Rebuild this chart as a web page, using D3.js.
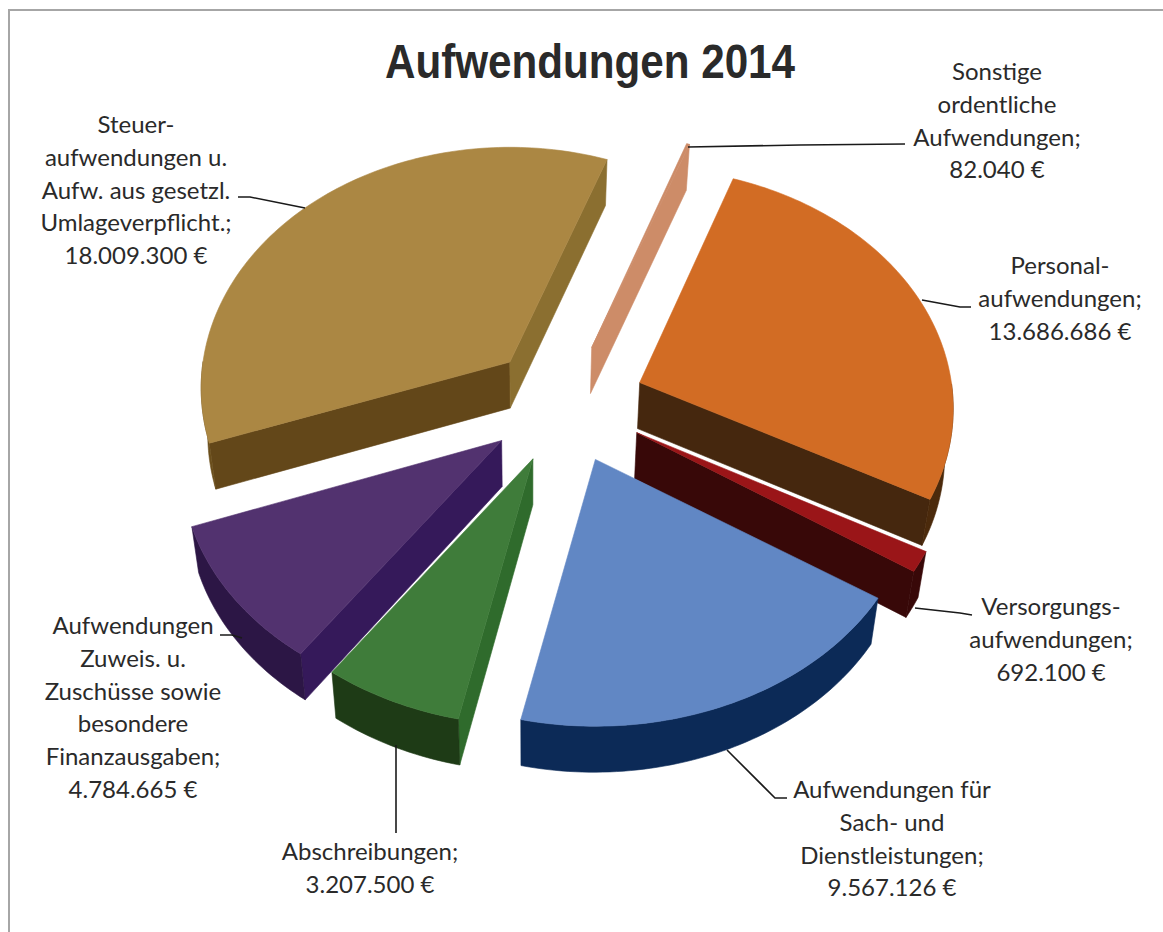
<!DOCTYPE html>
<html>
<head>
<meta charset="utf-8">
<script src="https://cdn.jsdelivr.net/npm/d3@7"></script>
<style>
  html, body { margin: 0; background: #fff; }
  text { font-family: Lato, "Open Sans", sans-serif; fill: #2a2a2a; }
</style>
</head>
<body>
<script>
const width = 1163;
const height = 932;

// values in pie order, clockwise from the right side of the gap
const names = [
  "Personalaufwendungen", "Versorgungsaufwendungen", "Aufwendungen für Sach- und Dienstleistungen",
  "Abschreibungen", "Aufwendungen Zuweis. u. Zuschüsse", "Steueraufwendungen", "Sonstige ordentliche Aufwendungen"
];
const values = [13686686, 692100, 9567126, 3207500, 4784665, 18009300, 82040];
const labels = [
  ["Personal-", "aufwendungen;", "13.686.686 €"],
  ["Versorgungs-", "aufwendungen;", "692.100 €"],
  ["Aufwendungen für", "Sach- und", "Dienstleistungen;", "9.567.126 €"],
  ["Abschreibungen;", "3.207.500 €"],
  ["Aufwendungen", "Zuweis. u.", "Zuschüsse sowie", "besondere", "Finanzausgaben;", "4.784.665 €"],
  ["Steuer-", "aufwendungen u.", "Aufw. aus gesetzl.", "Umlageverpflicht.;", "18.009.300 €"],
  ["Sonstige", "ordentliche", "Aufwendungen;", "82.040 €"]
];

// top, wall at slice start, wall at slice end, outer band
const topColors = ["#d26c24", "#9a1518", "#6187c4", "#3f7c3a", "#52326f", "#ab8743", "#cd8c68"];
const startWall = ["#45270e", "#380808", "#0c2a57", "#2f6b2c", "#35195a", "#634719", "#cd8c68"];
const endWall = ["#45270e", "#380808", "#0c2a57", "#1e3b16", "#2c1645", "#8b6f30", "#cd8c68"];
const bandColors = ["#4b2a0c", "#380808", "#0c2a57", "#1e3b16", "#2c1645", "#6b4f1c", "#cd8c68"];

// small per slice corrections, the picture is not a perfect pie
const sliceScaleX = [0.98, 0.98, 1, 1, 1, 0.965, 1];
const sliceTurn = [-0.5, 0, 0, 0, 0, 1.2, 0];
const sliceNudge = [[0, 0], [3, -2], [0, 0], [0, 0], [0, 0], [2, 0], [0, 0]];

// label placement: centre x, first line y, then the leader line
const labelX = [1060, 1051, 892, 370, 133, 136, 997];
const labelY = [274, 615, 798, 860, 634, 133, 80];
const leaders = [
  [[922, 300], [960, 307], [971, 307]],
  [[915, 608], [960, 613], [972, 615]],
  [[727, 750], [775, 798], [787, 798]],
  [[396, 745], [396, 833]],
  [[242, 638], [232, 635], [220, 635]],
  [[305, 208], [250, 197], [238, 197]],
  [[688, 147], [800, 145], [905, 144]]
];

const drawOrder = [6, 5, 0, 4, 3, 1, 2];

const cx = 565, cy = 404;      // pie centre before explosion
const rx = 318, ry = 238;      // radii of the pie plane
const persp = 0.108;           // near side looks bigger
const explode = 80;
const depth = 46;
const vanishX = 530;
const lineH = 32.8;

const svg = d3.select("body").append("svg")
  .attr("width", width)
  .attr("height", height)
  .style("display", "block");

// chart frame, only left and top show
svg.append("path")
  .attr("d", `M9,${height}V10H${width}`)
  .attr("fill", "none")
  .attr("stroke", "#a6a6a6")
  .attr("stroke-width", 2);

svg.append("text")
  .attr("x", 385)
  .attr("y", 78)
  .attr("textLength", 410)
  .attr("lengthAdjust", "spacingAndGlyphs")
  .style("font-family", "'Liberation Sans', Arial, sans-serif")
  .style("font-weight", "bold")
  .style("font-size", "48px")
  .text("Aufwendungen 2014");

const startAngle = 19.8 * Math.PI / 180;
const pie = d3.pie().sort(null).startAngle(startAngle).endAngle(startAngle + 2 * Math.PI);
const slices = pie(values);

// angle -> offset from the slice apex, on the top face
function rim(a, i) {
  const t = a + sliceTurn[i] * Math.PI / 180;
  const X = Math.sin(t), Y = Math.cos(t);
  const s = 1 + persp * Y;
  return [rx * sliceScaleX[i] * X / s, -ry * Y / s];
}

function lower(p) {
  return [vanishX + (p[0] - vanishX) * 0.98, p[1] + depth];
}

const line = d3.line();

function face(g, pts, color) {
  g.append("path")
    .attr("d", line(pts) + "Z")
    .attr("fill", color)
    .attr("stroke", color)
    .attr("stroke-width", 0.6)
    .attr("stroke-linejoin", "round");
}

const pieG = svg.append("g");

drawOrder.forEach(i => {
  const d = slices[i];
  const mid = (d.startAngle + d.endAngle) / 2;
  const apex = [
    cx + explode * Math.sin(mid) + sliceNudge[i][0],
    cy - explode * (ry / rx) * Math.cos(mid) + sliceNudge[i][1]
  ];

  const steps = Math.max(2, Math.ceil((d.endAngle - d.startAngle) / 0.02));
  const angles = d3.range(steps + 1).map(k => d.startAngle + (d.endAngle - d.startAngle) * k / steps);
  const toScreen = a => {
    const o = rim(a, i);
    return [apex[0] + o[0], apex[1] + o[1]];
  };
  const arcPts = angles.map(toScreen);
  const first = arcPts[0], last = arcPts[arcPts.length - 1];

  const g = pieG.append("g").attr("class", "slice").attr("data-name", names[i]);

  // only the faces turned to the viewer
  if (Math.sin(d.startAngle) < 0) face(g, [apex, first, lower(first), lower(apex)], startWall[i]);
  if (Math.sin(d.endAngle) > 0) face(g, [apex, last, lower(last), lower(apex)], endWall[i]);
  const front = angles.filter(a => Math.cos(a) < 0).map(toScreen);
  if (front.length > 1) face(g, front.concat(front.map(lower).reverse()), bandColors[i]);
  face(g, [apex].concat(arcPts), topColors[i]);
});

// leader lines
svg.append("g").selectAll("path")
  .data(leaders)
  .enter().append("path")
  .attr("d", d => line(d))
  .attr("fill", "none")
  .attr("stroke", "#1a1a1a")
  .attr("stroke-width", 1.6);

// data labels
const labelG = svg.append("g");
labels.forEach((lines, i) => {
  labelG.append("text")
    .attr("text-anchor", "middle")
    .style("font-size", "24px")
    .selectAll("tspan")
    .data(lines)
    .enter().append("tspan")
    .attr("x", labelX[i])
    .attr("y", (d, k) => labelY[i] + k * lineH)
    .text(d => d);
});
</script>
</body>
</html>
